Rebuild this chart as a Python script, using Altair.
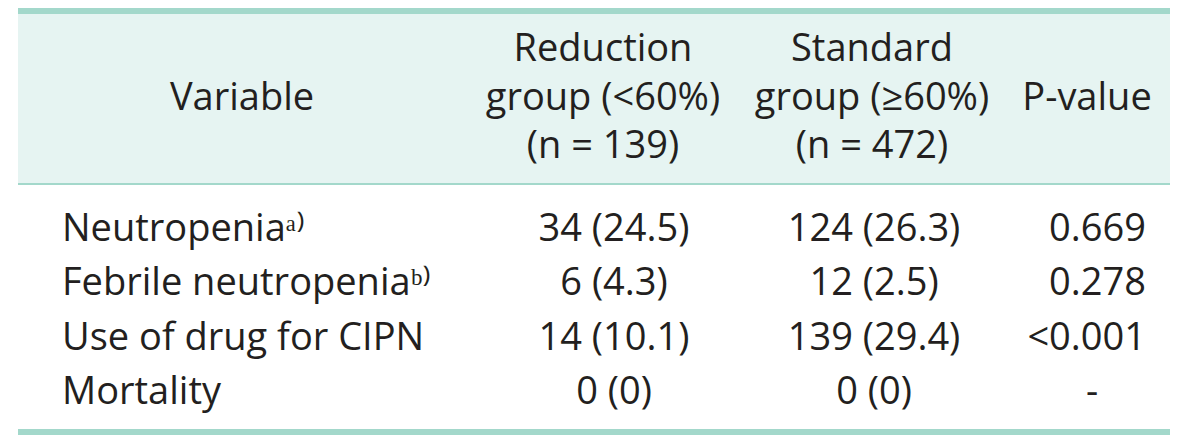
import altair as alt
import pandas as pd

# ---------------- data ----------------
variables = ["Neutropenia", "Febrile neutropenia", "Use of drug for CIPN", "Mortality"]
notes = ["a)", "b)", "", ""]
reduction = ["34 (24.5)", "6 (4.3)", "14 (10.1)", "0 (0)"]
standard = ["124 (26.3)", "12 (2.5)", "139 (29.4)", "0 (0)"]
p_values = ["0.669", "0.278", "<0.001", "-"]

header_variable = ["Variable"]
header_reduction = ["Reduction", "group (<60%)", "(n = 139)"]
header_standard = ["Standard", "group (\u226560%)", "(n = 472)"]
header_p = ["P-value"]

# ---------------- layout / style ----------------
W, H = 1184, 427
XS = alt.Scale(domain=[8, 8 + W], range=[0, W])
YS = alt.Scale(domain=[8, 8 + H], reverse=True)
FONT = "Open Sans"
FS = 38
TXT = "#231f20"
RULE = "#a3d8cb"
BAND = "#e6f4f2"
LEFT, RIGHT = 18, 1170

HEAD_Y0, HEAD_STEP = 61, 48.5
BODY_Y0, BODY_STEP = 241, 54.3

COL_VAR_HEAD, COL_RED_HEAD, COL_STD_HEAD, COL_P_HEAD = 242, 603, 872, 1087
COL_VAR_BODY, COL_RED_BODY, COL_STD_BODY, COL_P_BODY, COL_P_DASH = 62, 614, 874, 1146, 1092

SUP = {"a": "\u1d43", "b": "\u1d47", ")": "\u207e"}


def sup(s):
    return "".join(SUP.get(c, c) for c in s)


body = pd.DataFrame({
    "row": list(range(len(variables))),
    "variable": [v + sup(n) for v, n in zip(variables, notes)],
    "reduction": reduction,
    "standard": standard,
    "p": p_values,
})

head_rows = []
for col, lines in (("var", header_variable), ("red", header_reduction),
                   ("std", header_standard), ("p", header_p)):
    start = 1 if len(lines) == 1 else 0
    for i, t in enumerate(lines):
        head_rows.append({"col": col, "line": start + i, "text": t})
head = pd.DataFrame(head_rows)

one = pd.DataFrame({"k": [0]})


def band(y1, y2, color):
    return alt.Chart(one).mark_rect(color=color).encode(
        x=alt.X(datum=LEFT, type="quantitative", scale=XS, axis=None),
        x2=alt.X2(datum=RIGHT),
        y=alt.Y(datum=y1, type="quantitative", scale=YS, axis=None),
        y2=alt.Y2(datum=y2),
    )


bg = band(14, 183, BAND)
top_rule = band(8, 14, RULE)
mid_rule = band(183, 185, RULE)
bottom_rule = band(429, 436, RULE)


def head_layer(col, xpos):
    return alt.Chart(head).transform_filter(
        alt.datum.col == col
    ).transform_calculate(
        yy=f"{HEAD_Y0} + datum.line * {HEAD_STEP}"
    ).mark_text(font=FONT, fontSize=FS, color=TXT, align="center", baseline="alphabetic").encode(
        x=alt.X(datum=xpos, type="quantitative", scale=XS, axis=None),
        y=alt.Y("yy:Q", scale=YS, axis=None),
        text="text:N",
    )


def body_layer(field, xpos, align, flt=None):
    c = alt.Chart(body)
    if flt is not None:
        c = c.transform_filter(flt)
    return c.transform_calculate(
        yy=f"{BODY_Y0} + datum.row * {BODY_STEP}"
    ).mark_text(font=FONT, fontSize=FS, color=TXT, align=align, baseline="alphabetic").encode(
        x=alt.X(datum=xpos, type="quantitative", scale=XS, axis=None),
        y=alt.Y("yy:Q", scale=YS, axis=None),
        text=f"{field}:N",
    )


layers = [
    bg, top_rule, mid_rule, bottom_rule,
    head_layer("var", COL_VAR_HEAD),
    head_layer("red", COL_RED_HEAD),
    head_layer("std", COL_STD_HEAD),
    head_layer("p", COL_P_HEAD),
    body_layer("variable", COL_VAR_BODY, "left"),
    body_layer("reduction", COL_RED_BODY, "center"),
    body_layer("standard", COL_STD_BODY, "center"),
    body_layer("p", COL_P_BODY, "right", alt.datum.p != "-"),
    body_layer("p", COL_P_DASH, "center", alt.datum.p == "-"),
]

chart = alt.layer(*layers).properties(
    width=W, height=H, padding=0, autosize="none", background="white"
).configure_view(stroke=None)

chart.save("out.html", embed_options={"renderer": "svg", "actions": False})
